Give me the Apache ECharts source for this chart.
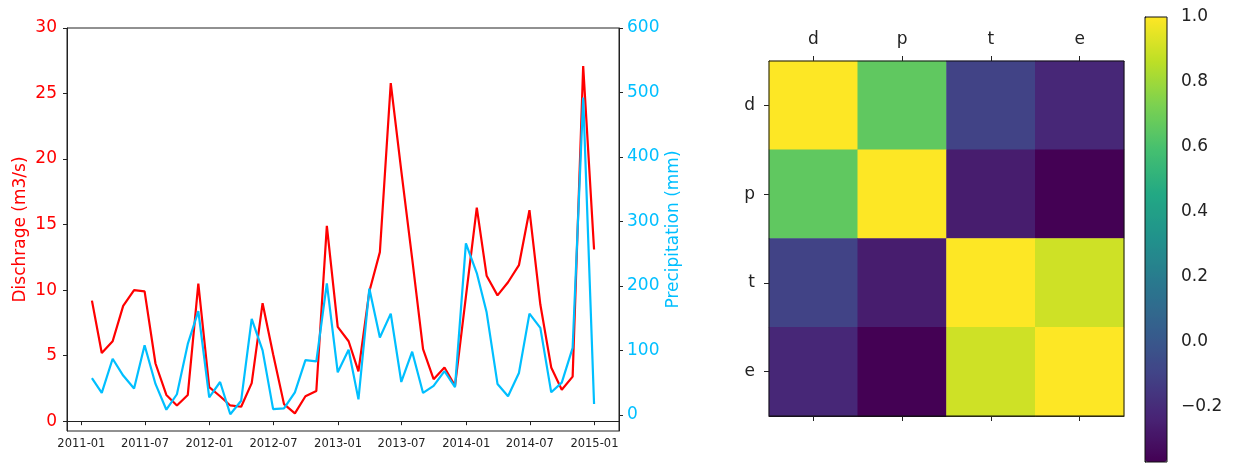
<!DOCTYPE html>
<html>
<head>
<meta charset="utf-8">
<script src="https://cdn.jsdelivr.net/npm/echarts@6/dist/echarts.min.js"></script>
<style>
  html, body { margin: 0; padding: 0; background: #fff; }
  #main { width: 1239px; height: 464px; }
</style>
</head>
<body>
<div id="main"></div>
<script>
  // monthly series, month-end dates
  const months = [
    '2011-01-31', '2011-02-28', '2011-03-31', '2011-04-30', '2011-05-31', '2011-06-30',
    '2011-07-31', '2011-08-31', '2011-09-30', '2011-10-31', '2011-11-30', '2011-12-31',
    '2012-01-31', '2012-02-29', '2012-03-31', '2012-04-30', '2012-05-31', '2012-06-30',
    '2012-07-31', '2012-08-31', '2012-09-30', '2012-10-31', '2012-11-30', '2012-12-31',
    '2013-01-31', '2013-02-28', '2013-03-31', '2013-04-30', '2013-05-31', '2013-06-30',
    '2013-07-31', '2013-08-31', '2013-09-30', '2013-10-31', '2013-11-30', '2013-12-31',
    '2014-01-31', '2014-02-28', '2014-03-31', '2014-04-30', '2014-05-31', '2014-06-30',
    '2014-07-31', '2014-08-31', '2014-09-30', '2014-10-31', '2014-11-30', '2014-12-31'
  ];
  const discharge = [
    9.2, 5.2, 6.1, 8.8, 10.0, 9.9, 4.4, 2.0, 1.2, 2.0, 10.5, 2.6,
    1.9, 1.2, 1.1, 2.9, 9.0, 5.1, 1.3, 0.6, 1.9, 2.3, 14.9, 7.2,
    6.1, 3.8, 9.9, 12.9, 25.8, 19.1, 12.4, 5.5, 3.2, 4.1, 2.7, 9.5,
    16.3, 11.1, 9.6, 10.6, 11.9, 16.1, 8.9, 4.1, 2.4, 3.4, 27.1, 13.1
  ];
  const precipitation = [
    57, 34, 87, 61, 41, 108, 48, 8, 32, 110, 161, 27,
    51, 1, 22, 149, 100, 9, 10, 35, 85, 83, 204, 66,
    101, 24, 196, 120, 157, 51, 98, 34, 45, 68, 43, 266,
    220, 159, 48, 29, 65, 157, 135, 35, 50, 104, 492, 17
  ];
  const dateTicks = ['2011-01-01', '2011-07-01', '2012-01-01', '2012-07-01', '2013-01-01',
    '2013-07-01', '2014-01-01', '2014-07-01', '2015-01-01'];
  const dateMin = '2010-11-21', dateMax = '2015-03-12';
  const dischargeTicks = [0, 5, 10, 15, 20, 25, 30];
  const precipTicks = [0, 100, 200, 300, 400, 500, 600];

  // correlation matrix
  const corrLabels = ['d', 'p', 't', 'e'];
  const corrD = [1.0, 0.66, -0.10, -0.22];
  const corrP = [0.66, 1.0, -0.26, -0.37];
  const corrT = [-0.10, -0.26, 1.0, 0.90];
  const corrE = [-0.22, -0.37, 0.90, 1.0];
  const corrTicks = [-0.2, 0.0, 0.2, 0.4, 0.6, 0.8, 1.0];

  const viridis = ['#440154', '#482475', '#414487', '#355f8d', '#2a788e', '#21918c',
    '#22a884', '#44bf70', '#7ad151', '#bddf26', '#fde725'];
  const RED = '#ff0000', CYAN = '#00bfff', INK = '#222';

  // dates -> UTC ms so a plain value axis can place them
  const ts = s => { let p = s.split('-').map(Number); return Date.UTC(p[0], p[1] - 1, p[2]); };
  const pad2 = n => (n < 10 ? '0' : '') + n;

  let heatData = [];
  [corrD, corrP, corrT, corrE].forEach((row, i) => {
    row.forEach((v, j) => heatData.push([j, i, v]));
  });

  const chart = echarts.init(document.getElementById('main'));
  let option = {
    backgroundColor: '#fff',
    animation: false,
    textStyle: { fontFamily: 'DejaVu Sans' },
    grid: [
      { left: 67, top: 28, width: 552, height: 403, show: true, borderColor: INK, borderWidth: 1,
        backgroundColor: 'transparent', outerBoundsMode: 'none' },
      { left: 769, top: 61, width: 355, height: 355, show: true, borderColor: '#111', borderWidth: 1,
        backgroundColor: 'transparent', z: 3, outerBoundsMode: 'none' },
      { left: 1145, top: 17, width: 22, height: 445, show: true, borderColor: '#111', borderWidth: 1,
        backgroundColor: 'transparent', z: 5, outerBoundsMode: 'none' }
    ],
    xAxis: [
      {
        type: 'value', gridIndex: 0, min: ts(dateMin), max: ts(dateMax),
        axisLine: { show: true, lineStyle: { color: INK } },
        axisTick: { show: true, customValues: dateTicks.map(ts), length: 4, lineStyle: { color: INK } },
        axisLabel: {
          customValues: dateTicks.map(ts), fontSize: 11.5, color: INK, margin: 7,
          formatter: v => { let d = new Date(v); return d.getUTCFullYear() + '-' + pad2(d.getUTCMonth() + 1); }
        },
        splitLine: { show: false }
      },
      {
        type: 'category', gridIndex: 1, position: 'top', data: corrLabels,
        axisLine: { show: true, lineStyle: { color: '#111' } },
        axisTick: { show: true, alignWithLabel: true, length: 5, lineStyle: { color: INK } },
        axisLabel: { fontSize: 17, color: INK, margin: 13 },
        splitLine: { show: false }
      },
      {
        type: 'category', gridIndex: 1, position: 'bottom', data: corrLabels,
        axisLine: { show: true, lineStyle: { color: '#111' } },
        axisTick: { show: true, alignWithLabel: true, length: 5, lineStyle: { color: INK } },
        axisLabel: { show: false },
        splitLine: { show: false }
      },
      { type: 'value', gridIndex: 2, show: false, min: 0, max: 1 }
    ],
    yAxis: [
      {
        type: 'value', gridIndex: 0, position: 'left', min: -0.75, max: 30,
        name: 'Dischrage (m3/s)', nameLocation: 'middle', nameGap: 38, nameRotate: 90,
        nameTextStyle: { color: RED, fontSize: 17 },
        axisLine: { show: true, lineStyle: { color: INK } },
        axisTick: { show: true, customValues: dischargeTicks, length: 4, lineStyle: { color: INK } },
        axisLabel: { customValues: dischargeTicks, color: RED, fontSize: 17, margin: 10 },
        splitLine: { show: false }
      },
      {
        type: 'value', gridIndex: 0, position: 'right', min: -25, max: 600,
        name: 'Precipitation (mm)', nameLocation: 'middle', nameGap: 46, nameRotate: 90,
        nameTextStyle: { color: CYAN, fontSize: 17 },
        axisLine: { show: true, lineStyle: { color: INK } },
        axisTick: { show: true, customValues: precipTicks, length: 4, lineStyle: { color: INK } },
        axisLabel: { customValues: precipTicks, color: CYAN, fontSize: 17, margin: 8 },
        splitLine: { show: false }
      },
      {
        type: 'category', gridIndex: 1, inverse: true, data: corrLabels,
        axisLine: { show: true, lineStyle: { color: '#111' } },
        axisTick: { show: true, alignWithLabel: true, length: 5, lineStyle: { color: INK } },
        axisLabel: { fontSize: 17, color: INK, margin: 14 },
        splitLine: { show: false }
      },
      {
        type: 'value', gridIndex: 2, position: 'right', min: -0.37, max: 1,
        axisLine: { show: true, lineStyle: { color: '#111' } },
        axisTick: { show: true, customValues: corrTicks, length: 5, lineStyle: { color: INK } },
        axisLabel: {
          customValues: corrTicks, fontSize: 17, color: INK, margin: 14,
          formatter: v => v.toFixed(1).replace('-', '\u2212')
        },
        splitLine: { show: false }
      }
    ],
    visualMap: {
      type: 'continuous', seriesIndex: 2, min: -0.37, max: 1,
      orient: 'vertical', left: 1145, top: 17, itemWidth: 22, itemHeight: 445,
      padding: 0, calculable: false, hoverLink: false,
      inRange: { color: viridis }
    },
    series: [
      {
        name: 'discharge', type: 'line', xAxisIndex: 0, yAxisIndex: 0,
        data: months.map((m, i) => [ts(m), discharge[i]]),
        showSymbol: false, lineStyle: { color: RED, width: 2.2 }, itemStyle: { color: RED }
      },
      {
        name: 'precipitation', type: 'line', xAxisIndex: 0, yAxisIndex: 1,
        data: months.map((m, i) => [ts(m), precipitation[i]]),
        showSymbol: false, lineStyle: { color: CYAN, width: 2.2 }, itemStyle: { color: CYAN }
      },
      {
        name: 'corr', type: 'heatmap', xAxisIndex: 1, yAxisIndex: 2,
        data: heatData, emphasis: { disabled: true }
      }
    ]
  };

  chart.setOption(option);
</script>
</body>
</html>
